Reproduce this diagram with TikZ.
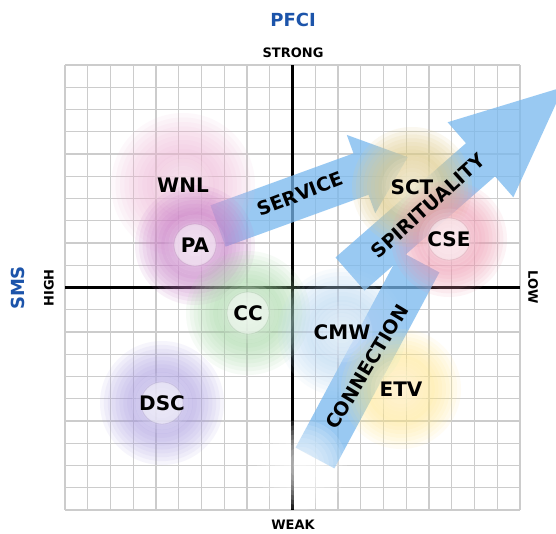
\documentclass[tikz,border=0pt]{standalone}
\usepackage{fontspec}
\setmainfont{DejaVu Sans}
\usetikzlibrary{arrows.meta}

\begin{document}
\begin{tikzpicture}[x=1pt,y=-1pt,
    lbl/.style={font=\fontsize{20}{24}\selectfont\bfseries},
    bandlbl/.style={font=\fontsize{19}{23}\selectfont\bfseries},
    axlbl/.style={font=\fontsize{13}{15}\selectfont\bfseries},
    ttl/.style={font=\fontsize{18}{21}\selectfont\bfseries, text=titleBlue},
    band/.style={draw=arrowBlue, line width=44pt},
    gridline/.style={gray!40, line width=1.1pt},
    axisline/.style={black, line width=3pt}]
  % Paramètres de la grille
  \def\gx{65}    % bord gauche
  \def\gy{65}    % bord haut
  \def\cw{22.75} % largeur d'une case
  \def\ch{22.25} % hauteur d'une case
  \def\nLayers{16} % nombre de couches pour le flou des taches

  % Couleurs
  \definecolor{titleBlue}{RGB}{28,84,170}
  \definecolor{arrowBlue}{RGB}{120,184,238}
  \definecolor{wnlColor}{RGB}{240,180,215}
  \definecolor{paColor}{RGB}{200,125,200}
  \definecolor{ccColor}{RGB}{160,215,160}
  \definecolor{dscColor}{RGB}{165,152,225}
  \definecolor{cmwColor}{RGB}{180,214,242}
  \definecolor{etvColor}{RGB}{255,232,135}
  \definecolor{sctColor}{RGB}{225,205,140}
  \definecolor{cseColor}{RGB}{240,150,175}

  % Cadre de l'image
  \useasboundingbox[fill=white] (0,0) rectangle (556,533);
  \clip (0,0) rectangle (556,533);

  % Grille 20 x 20
  \foreach \i in {0,...,20}
  {
    \draw[gridline] ({\gx+\i*\cw},\gy) -- ({\gx+\i*\cw},{\gy+20*\ch});
    \draw[gridline] (\gx,{\gy+\i*\ch}) -- ({\gx+20*\cw},{\gy+\i*\ch});
  }

  % Axes
  \coordinate (top) at ({\gx+10*\cw},\gy);
  \coordinate (bottom) at ({\gx+10*\cw},{\gy+20*\ch});
  \coordinate (left) at (\gx,{\gy+10*\ch});
  \coordinate (right) at ({\gx+20*\cw},{\gy+10*\ch});
  \draw[axisline] (top) -- (bottom);
  \draw[axisline] (left) -- (right);

  % Extrémités des flèches
  \coordinate (servStart) at (218,226);
  \coordinate (servEnd) at (408,157);
  \coordinate (connStart) at (315,458);
  \coordinate (connEnd) at (420,262);
  \coordinate (spiStart) at (350,274);
  \coordinate (spiEnd) at (567,84);

  % Flèches bleues
  \begin{scope}[transparency group, opacity=0.75]
    \draw[band, -{Triangle[length=50pt,width=80pt]}] (servStart) -- (servEnd);
    \draw[band] (connStart) -- (connEnd);
    \draw[band, -{Triangle[length=115pt,width=90pt]}] (spiStart) -- (spiEnd);
  \end{scope}

  % Tache blanche sous l'axe
  \coordinate (smudge) at (302,465);
  \foreach \k in {1,...,10}
    \fill[white, opacity=0.13] (smudge) circle ({4.5*\k*1pt});

  % Positions des groupes
  \coordinate (wnl) at (183,185);
  \coordinate (pa) at (195,245);
  \coordinate (cc) at (248,313);
  \coordinate (dsc) at (162,403);
  \coordinate (cmw) at (342,332);
  \coordinate (etv) at (401,389);
  \coordinate (sct) at (412,187);
  \coordinate (cse) at (449,239);

  % Taches de couleur (couches superposées)
  \foreach \c/\col/\r/\op in {wnl/wnlColor/72/0.085, pa/paColor/60/0.11,
      cc/ccColor/62/0.09, dsc/dscColor/62/0.09, cmw/cmwColor/64/0.09,
      etv/etvColor/60/0.09, sct/sctColor/60/0.13, cse/cseColor/58/0.1}
  {
    \foreach \k in {1,...,\nLayers}
      \fill[\col, opacity=\op] (\c) circle ({\r*\k/\nLayers*1pt});
    % coeur plus clair
    \foreach \k in {1,...,8}
      \fill[white, opacity=0.1] (\c) circle ({3.8*\k*1pt});
  }

  % Anneaux autour des centres
  \foreach \c/\col in {pa/paColor, cc/ccColor, dsc/dscColor, cse/cseColor}
  {
    \fill[white, opacity=0.45] (\c) circle (21pt);
    \draw[\col!60!black, opacity=0.15, line width=0.8pt] (\c) circle (21pt);
  }

  % Titres et bornes des axes
  \node[ttl] (pfci) at (293,20) {PFCI};
  \node[axlbl] (strong) at (293,53) {STRONG};
  \node[axlbl] (weak) at (293,525) {WEAK};
  \node[ttl, rotate=90] (sms) at (18,288) {SMS};
  \node[axlbl, rotate=90] (high) at (49,288) {HIGH};
  \node[axlbl, rotate=-90] (low) at (533,287) {LOW};

  % Noms des groupes
  \node[lbl] (wnlLbl) at (wnl) {WNL};
  \node[lbl] (paLbl) at (pa) {PA};
  \node[lbl] (ccLbl) at (cc) {CC};
  \node[lbl] (dscLbl) at (dsc) {DSC};
  \node[lbl] (cmwLbl) at (cmw) {CMW};
  \node[lbl] (etvLbl) at (etv) {ETV};
  \node[lbl] (sctLbl) at (sct) {SCT};
  \node[lbl] (cseLbl) at (cse) {CSE};

  % Textes des flèches
  \node[bandlbl, rotate=21] (service) at (300,194) {SERVICE};
  \node[bandlbl, rotate=42] (spirit) at (428,206) {SPIRITUALITY};
  \node[bandlbl, rotate=59] (connect) at (367,367) {CONNECTION};
\end{tikzpicture}
\end{document}
